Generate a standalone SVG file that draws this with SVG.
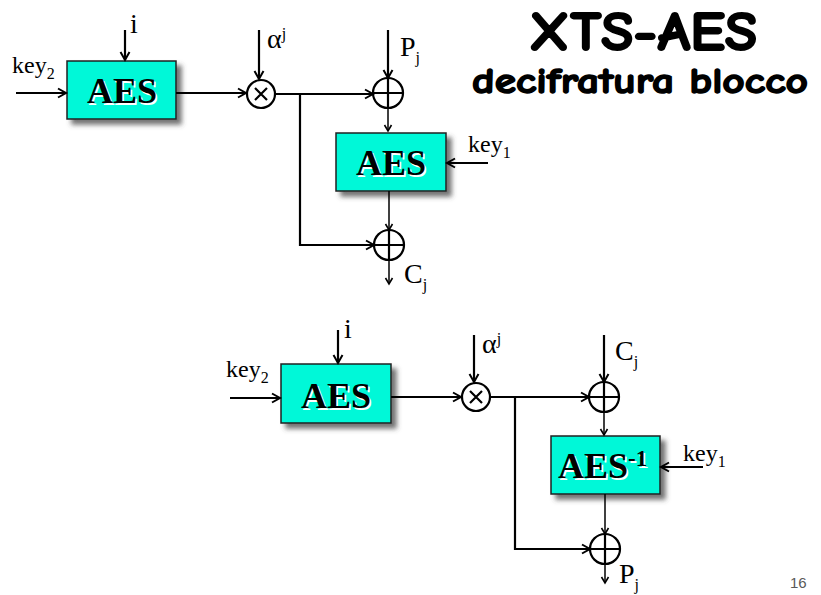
<svg xmlns="http://www.w3.org/2000/svg" width="821" height="595" viewBox="0 0 821 595">
<style>
.ln{fill:none;stroke:#000;stroke-width:2.2}
.thin{fill:none;stroke:#000;stroke-width:1.5}
.box{fill:#00F8D8;stroke:#222;stroke-width:1.5}
.bt{font-family:"Liberation Serif","Times New Roman",serif;font-weight:bold;font-size:36px;fill:#000}
.bs{font-family:"Liberation Serif","Times New Roman",serif;font-weight:bold;font-size:36px;fill:#fff}
.lb{font-family:"Liberation Serif","Times New Roman",serif;font-size:24px;fill:#000}
.big{font-size:28px}
.sub{font-family:"Liberation Serif","Times New Roman",serif;font-size:16px;fill:#000}
.title{font-family:"Comic Sans MS","Comic Neue","DejaVu Sans",sans-serif;font-weight:bold;fill:#000;stroke:#000;stroke-linejoin:round}
</style>
<defs>
<marker id="ah" markerUnits="userSpaceOnUse" markerWidth="12" markerHeight="12" refX="9" refY="5" orient="auto" viewBox="0 0 12 10">
<path d="M1,0.5 L9,5 L1,9.5" fill="none" stroke="#000" stroke-width="2"/>
</marker>
<marker id="ahs" markerUnits="userSpaceOnUse" markerWidth="10" markerHeight="10" refX="7" refY="4" orient="auto" viewBox="0 0 10 8">
<path d="M1,0.5 L7,4 L1,7.5" fill="none" stroke="#000" stroke-width="1.6"/>
</marker>
<filter id="sh" x="-20%" y="-20%" width="150%" height="160%">
<feDropShadow dx="5" dy="5" stdDeviation="2.5" flood-color="#444" flood-opacity="0.75"/>
</filter>
</defs>

<g id="title">
<text class="title" x="643" y="50" font-size="54" stroke-width="2" text-anchor="middle" textLength="228" lengthAdjust="spacingAndGlyphs">XTS-AES</text>
<text class="title" x="640" y="93" font-size="37" stroke-width="1.5" text-anchor="middle" textLength="336" lengthAdjust="spacingAndGlyphs">decifratura blocco</text>
</g>

<!-- top diagram nodes -->
<g id="aes-top1">
<rect class="box" x="67" y="61" width="109" height="58" filter="url(#sh)"/>
<text class="bs" x="123.5" y="104.5" text-anchor="middle">AES</text>
<text class="bt" x="122" y="103" text-anchor="middle">AES</text>
</g>
<g id="aes-top2">
<rect class="box" x="336" y="133" width="110" height="58" filter="url(#sh)"/>
<text class="bs" x="392.5" y="176.5" text-anchor="middle">AES</text>
<text class="bt" x="391" y="175" text-anchor="middle">AES</text>
</g>
<g id="mul-top">
<circle class="ln" cx="261" cy="94" r="14"/>
<path class="ln" d="M255,88 L267,100 M267,88 L255,100"/>
</g>
<g id="xor-top1">
<circle class="ln" cx="388" cy="93" r="15"/>
<path class="ln" d="M373,93 H403 M388,78 V108"/>
</g>
<g id="xor-top2">
<circle class="ln" cx="389" cy="245" r="15"/>
<path class="ln" d="M374,245 H404 M389,230 V260"/>
</g>
<g id="labels-top">
<text class="lb" x="12" y="73">key<tspan class="sub" dy="6">2</tspan></text>
<text class="lb big" x="130" y="33">i</text>
<text class="lb big" x="267" y="48">α<tspan class="sub" dy="-9">j</tspan></text>
<text class="lb big" x="400" y="56">P<tspan class="sub" dy="7">j</tspan></text>
<text class="lb" x="468" y="152">key<tspan class="sub" dy="6">1</tspan></text>
<text class="lb big" x="404" y="283">C<tspan class="sub" dy="7">j</tspan></text>
</g>

<!-- bottom diagram nodes -->
<g id="aes-bot1">
<rect class="box" x="281" y="364" width="110" height="59" filter="url(#sh)"/>
<text class="bs" x="337.5" y="409.5" text-anchor="middle">AES</text>
<text class="bt" x="336" y="408" text-anchor="middle">AES</text>
</g>
<g id="aes-inv">
<rect class="box" x="551" y="436" width="109" height="58" filter="url(#sh)"/>
<text class="bs" x="559.5" y="479.5">AES<tspan font-size="23" dy="-12">-1</tspan></text>
<text class="bt" x="558" y="478">AES<tspan font-size="23" dy="-12">-1</tspan></text>
</g>
<g id="mul-bot">
<circle class="ln" cx="476" cy="397" r="14"/>
<path class="ln" d="M470,391 L482,403 M482,391 L470,403"/>
</g>
<g id="xor-bot1">
<circle class="ln" cx="604" cy="397" r="15"/>
<path class="ln" d="M589,397 H619 M604,382 V412"/>
</g>
<g id="xor-bot2">
<circle class="ln" cx="605" cy="549" r="15"/>
<path class="ln" d="M590,549 H620 M605,534 V564"/>
</g>
<g id="labels-bot">
<text class="lb" x="226" y="377">key<tspan class="sub" dy="6">2</tspan></text>
<text class="lb big" x="344" y="338">i</text>
<text class="lb big" x="482" y="353">α<tspan class="sub" dy="-9">j</tspan></text>
<text class="lb big" x="615" y="360">C<tspan class="sub" dy="7">j</tspan></text>
<text class="lb" x="683" y="461">key<tspan class="sub" dy="6">1</tspan></text>
<text class="lb big" x="619" y="583">P<tspan class="sub" dy="7">j</tspan></text>
</g>

<g id="connectors">
<!-- top -->
<path class="ln" d="M16,93 H66" marker-end="url(#ah)"/>
<path class="ln" d="M125,30 V60" marker-end="url(#ah)"/>
<path class="ln" d="M176,93 H246" marker-end="url(#ah)"/>
<path class="ln" d="M259,30 V79" marker-end="url(#ah)"/>
<path class="ln" d="M275,94 H373" marker-end="url(#ah)"/>
<path class="ln" d="M300,94 V245 H374" marker-end="url(#ah)"/>
<path class="ln" d="M388,30 V78" marker-end="url(#ah)"/>
<path class="thin" d="M388,108 V131" marker-end="url(#ahs)"/>
<path class="ln" d="M488,163 H447" marker-end="url(#ah)"/>
<path class="thin" d="M389,191 V230" marker-end="url(#ahs)"/>
<path class="thin" d="M389,260 V284" marker-end="url(#ahs)"/>
<!-- bottom -->
<path class="ln" d="M230,398 H280" marker-end="url(#ah)"/>
<path class="ln" d="M338,330 V363" marker-end="url(#ah)"/>
<path class="ln" d="M391,397 H461" marker-end="url(#ah)"/>
<path class="ln" d="M474,335 V382" marker-end="url(#ah)"/>
<path class="ln" d="M490,397 H589" marker-end="url(#ah)"/>
<path class="ln" d="M515,397 V549 H590" marker-end="url(#ah)"/>
<path class="ln" d="M604,335 V382" marker-end="url(#ah)"/>
<path class="thin" d="M604,412 V435" marker-end="url(#ahs)"/>
<path class="ln" d="M703,467 H661" marker-end="url(#ah)"/>
<path class="thin" d="M605,494 V534" marker-end="url(#ahs)"/>
<path class="thin" d="M605,564 V583" marker-end="url(#ahs)"/>
</g>

<text x="790" y="588" font-family="'Liberation Sans',Arial,sans-serif" font-size="15" fill="#595959">16</text>
</svg>
